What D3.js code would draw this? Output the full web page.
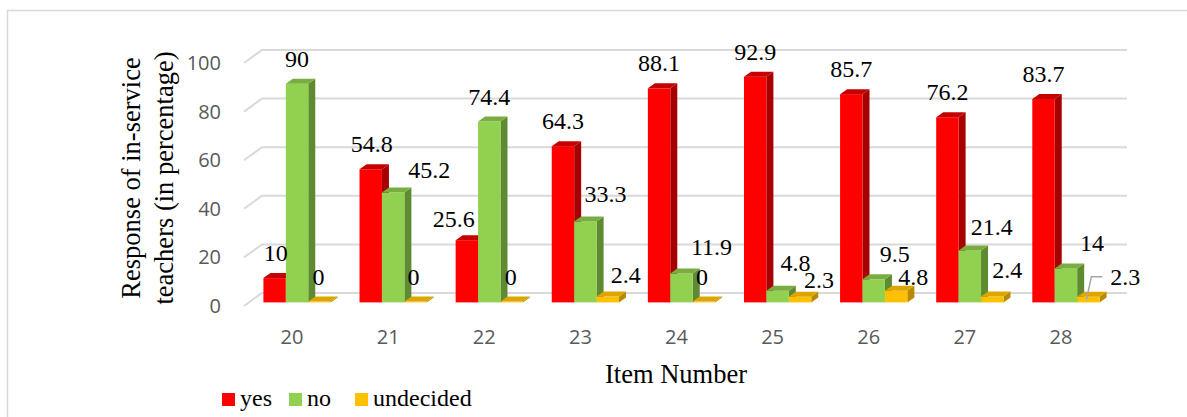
<!DOCTYPE html>
<html>
<head>
<meta charset="utf-8">
<script src="https://cdn.jsdelivr.net/npm/d3@7"></script>
<style>
  html, body { margin: 0; padding: 0; background: #fff; }
  svg { display: block; }
  .serif { font-family: "Liberation Serif", "Times New Roman", serif; }
  .sans { font-family: "Open Sans", sans-serif; }
</style>
</head>
<body>
<svg id="chart" width="1187" height="417"></svg>
<script>
// ---------------- data ----------------
const categories = ["20", "21", "22", "23", "24", "25", "26", "27", "28"];
const seriesNames = ["yes", "no", "undecided"];
const yesValues = [10, 54.8, 25.6, 64.3, 88.1, 92.9, 85.7, 76.2, 83.7];
const noValues = [90, 45.2, 74.4, 33.3, 11.9, 4.8, 9.5, 21.4, 14];
const undecidedValues = [0, 0, 0, 2.4, 0, 2.3, 4.8, 2.4, 2.3];
const yTicks = [0, 20, 40, 60, 80, 100];
const yAxisTitle = ["Response of in-service", "teachers (in percentage)"];
const xAxisTitle = "Item Number";

// ---------------- styles ----------------
const faceColors = {
  yes:       { front: "#FF0000", side: "#A60000", top: "#C40000" },
  no:        { front: "#92D050", side: "#5E8A32", top: "#79AD40" },
  undecided: { front: "#FFC000", side: "#B88A00", top: "#DDA500" }
};
// manual label nudges (dx, dy) as in the reference
const labelNudge = {
  yes:       [[1,0],[1,0],[-13,4],[0,0],[0,0],[0,0],[0,0],[0,0],[0,0]],
  no:        [[0,0],[36,2],[0,0],[20,-2],[30,-1],[18,-3],[21,0],[22,2],[26,0]],
  undecided: [[-1,0],[-2,0],[-1,0],[18,3],[-2,0],[19,8],[17,11],[15,-2],[37,5]]
};
const leaderLines = { undecided: [8] };

// ---------------- layout ----------------
const svg = d3.select("#chart");
const W = 1187, H = 417;
const frontLeft = 244, frontRight = 1109;
const wallDepth = { x: 18, y: -13 };     // back wall offset
const barShift = { x: 5, y: -3.6 };      // bar front-face depth
const barDepth = { x: 7, y: -5 };        // bar thickness

const x = d3.scaleBand().domain(categories).range([frontLeft, frontRight]);
const y = d3.scaleLinear().domain([0, 100]).range([306, 63]);
const groupW = x.bandwidth() * 0.70;
const xs = d3.scaleBand().domain(seriesNames).range([0, groupW]);

const valuesBySeries = { yes: yesValues, no: noValues, undecided: undecidedValues };

// outer border
svg.append("rect")
  .attr("x", 7.5).attr("y", 10.5).attr("width", W + 20).attr("height", H + 20)
  .attr("fill", "none").attr("stroke", "#D9D9D9").attr("stroke-width", 1.5);

// gridlines: side wall diagonal + back wall horizontal
const grid = svg.append("g").attr("stroke", "#D9D9D9").attr("stroke-width", 2).attr("fill", "none");
yTicks.forEach(t => {
  const yf = y(t);
  grid.append("path")
    .attr("d", `M${frontLeft},${yf}L${frontLeft + wallDepth.x},${yf + wallDepth.y}L${frontRight + wallDepth.x},${yf + wallDepth.y}`);
});

// y axis tick labels
const yAxis = d3.axisLeft(y).tickValues(yTicks).tickSize(0).tickPadding(23);
const gy = svg.append("g").attr("transform", `translate(${frontLeft},0)`).call(yAxis);
gy.select(".domain").remove();
gy.attr("font-family", null).attr("font-size", null);
gy.selectAll("text").attr("class", "sans").style("font-size", "20px").attr("fill", "#595959");

// x axis category labels
const xAxis = d3.axisBottom(x).tickSize(0).tickPadding(24);
const gx = svg.append("g").attr("transform", `translate(0,${y(0)})`).call(xAxis);
gx.select(".domain").remove();
gx.attr("font-family", null).attr("font-size", null);
gx.selectAll("text").attr("class", "sans").style("font-size", "20px").attr("fill", "#595959");

// bars
const barsG = svg.append("g");
const labelsG = svg.append("g");

categories.forEach((cat, i) => {
  const gx0 = x(cat) + (x.bandwidth() - groupW) / 2 + barShift.x;
  seriesNames.forEach(s => {
    const v = valuesBySeries[s][i];
    const bx = gx0 + xs(s);
    const bw = xs.bandwidth();
    const yb = y(0) + barShift.y;
    const yt = Math.min(y(v) + barShift.y, yb - 0.8);
    const c = faceColors[s];
    const g = barsG.append("g");
    // side
    g.append("polygon")
      .attr("points", [[bx + bw, yt], [bx + bw + barDepth.x, yt + barDepth.y], [bx + bw + barDepth.x, yb + barDepth.y], [bx + bw, yb]].join(" "))
      .attr("fill", c.side);
    // front
    g.append("rect").attr("x", bx).attr("y", yt).attr("width", bw).attr("height", yb - yt).attr("fill", c.front);
    // top
    g.append("polygon")
      .attr("points", [[bx, yt], [bx + barDepth.x, yt + barDepth.y], [bx + bw + barDepth.x, yt + barDepth.y], [bx + bw, yt]].join(" "))
      .attr("fill", c.top);

    // data label
    const nd = labelNudge[s][i];
    const lx = bx + bw / 2 + nd[0];
    const ly = yt - 17 + nd[1];
    const txt = labelsG.append("text")
      .attr("class", "serif")
      .attr("x", lx).attr("y", ly)
      .attr("text-anchor", "middle")
      .style("font-size", "24px")
      .attr("fill", "#000")
      .text(String(v));
    if ((leaderLines[s] || []).includes(i)) {
      const tw = txt.node().getComputedTextLength();
      const left = lx - tw / 2;
      const mid = ly - 8;
      svg.append("path")
        .attr("d", `M${bx + bw / 2 - 2},${yt + 3}L${left - 19},${mid}L${left - 8},${mid}`)
        .attr("fill", "none").attr("stroke", "#A6A6A6").attr("stroke-width", 1.5);
    }
  });
});
labelsG.raise();

// axis titles
const ty = svg.append("text")
  .attr("class", "serif")
  .attr("transform", `translate(140,178) rotate(-90)`)
  .style("font-size", "26.5px").attr("text-anchor", "middle").attr("fill", "#000");
ty.append("tspan").attr("x", 0).attr("y", 0).text(yAxisTitle[0]);
ty.append("tspan").attr("x", 0).attr("y", 33).text(yAxisTitle[1]);

svg.append("text")
  .attr("class", "serif")
  .attr("x", 676).attr("y", 383)
  .style("font-size", "26.5px").attr("text-anchor", "middle").attr("fill", "#000")
  .text(xAxisTitle);

// legend
const legendX = [222, 289, 355];
const lg = svg.append("g");
seriesNames.forEach((s, k) => {
  lg.append("rect").attr("x", legendX[k]).attr("y", 393).attr("width", 13).attr("height", 13).attr("fill", faceColors[s].front);
  lg.append("text").attr("class", "serif").attr("x", legendX[k] + 18).attr("y", 406)
    .style("font-size", "24px").attr("fill", "#000").text(s);
});
</script>
</body>
</html>
